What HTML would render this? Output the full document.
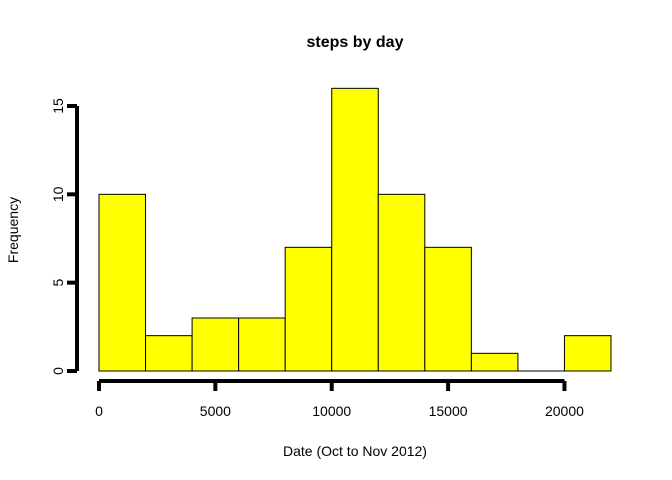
<!DOCTYPE html>
<html><head><meta charset="utf-8"><style>
body{margin:0;background:#fff}
svg{display:block;font-family:"Liberation Sans",Arial,sans-serif}
</style></head><body>
<svg id="chart" width="672" height="480">
<text x="355" y="47" text-anchor="middle" font-size="16" font-weight="bold">steps by day</text>
<text x="355" y="456" text-anchor="middle" font-size="14">Date (Oct to Nov 2012)</text>
<text transform="translate(18,230) rotate(-90)" text-anchor="middle" font-size="14">Frequency</text>
<g id="bars"></g><g id="xaxis"></g><g id="yaxis"></g>
</svg>
<script>
const binStarts=[0,2000,4000,6000,8000,10000,12000,14000,16000,18000,20000];
const binWidth=2000;
const counts=[10,2,3,3,7,16,10,7,1,0,2];
const xTicks=[0,5000,10000,15000,20000];
const yTicks=[0,5,10,15];
const NS="http://www.w3.org/2000/svg";
const sx=v=>99+v*512/22000;
const sy=v=>371-v*265/15;
function mk(t,a,p){const e=document.createElementNS(NS,t);for(const k in a)e.setAttribute(k,a[k]);p.appendChild(e);return e;}
const bars=document.getElementById('bars');
binStarts.forEach((b,i)=>{
 let r;
 if(counts[i]===0){
  r=mk('line',{x1:sx(b),x2:sx(b+binWidth),y1:sy(0),y2:sy(0),stroke:'#000','stroke-width':1},bars);
 } else {
  r=mk('rect',{x:sx(b),y:sy(counts[i]),width:sx(b+binWidth)-sx(b),height:sy(0)-sy(counts[i]),fill:'#ffff00',stroke:'#000','stroke-width':1},bars);
 }
 
 
});
const xa=document.getElementById('xaxis');
const xl=mk('line',{x1:sx(xTicks[0]),x2:sx(xTicks[xTicks.length-1]),y1:381,y2:381,stroke:'#000','stroke-width':4},xa);


xTicks.forEach(t=>{
 mk('line',{x1:sx(t),x2:sx(t),y1:381,y2:391,stroke:'#000','stroke-width':4},xa);
 const tx=mk('text',{x:sx(t),y:416,'text-anchor':'middle','font-size':14},xa);
 tx.textContent=t;
 
 
});
const ya=document.getElementById('yaxis');
const yl=mk('line',{x1:77,x2:77,y1:sy(yTicks[0]),y2:sy(yTicks[yTicks.length-1]),stroke:'#000','stroke-width':4},ya);


yTicks.forEach(t=>{
 mk('line',{x1:67,x2:77,y1:sy(t),y2:sy(t),stroke:'#000','stroke-width':4},ya);
 const tx=mk('text',{transform:`translate(63,${sy(t)}) rotate(-90)`,'text-anchor':'middle','font-size':14},ya);
 tx.textContent=t;
 
 
});
</script>
</body></html>
